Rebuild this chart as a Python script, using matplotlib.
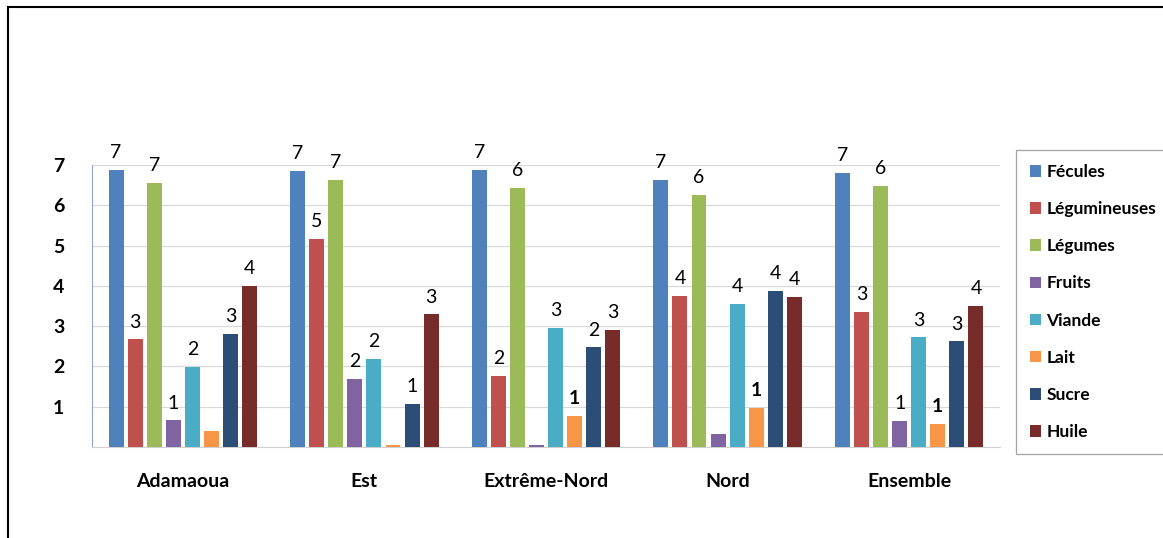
import numpy as np
import matplotlib
matplotlib.use("Agg")
import matplotlib.pyplot as plt
from matplotlib.lines import Line2D

plt.rcParams["font.family"] = ["Lato", "DejaVu Sans"]

regions = ["Adamaoua", "Est", "Extrême-Nord", "Nord", "Ensemble"]
groups = ["Fécules", "Légumineuses", "Légumes", "Fruits", "Viande", "Lait", "Sucre", "Huile"]

fecules = [6.87, 6.85, 6.87, 6.64, 6.80]
legumineuses = [2.67, 5.17, 1.77, 3.76, 3.35]
legumes = [6.56, 6.62, 6.44, 6.26, 6.48]
fruits = [0.66, 1.69, 0.04, 0.32, 0.65]
viande = [1.99, 2.18, 2.96, 3.55, 2.72]
lait = [0.40, 0.06, 0.78, 0.98, 0.58]
sucre = [2.81, 1.06, 2.47, 3.87, 2.62]
huile = [4.00, 3.29, 2.90, 3.72, 3.51]

series = [fecules, legumineuses, legumes, fruits, viande, lait, sucre, huile]
colors = ["#4F81BD", "#C0504D", "#9BBB59", "#8064A2", "#4BACC6", "#F79646", "#2C4D75", "#772C2A"]

fig = plt.figure(figsize=(11.63, 5.38), dpi=100)
ax = fig.add_axes([92 / 1163, 1 - 447 / 538, 908 / 1163, 282 / 538])

x = np.arange(len(regions))
step = 0.105
width = 0.082
for i, (name, vals, c) in enumerate(zip(groups, series, colors)):
    pos = x + (i - 3.5) * step
    ax.bar(pos, vals, width, color=c, label=name, zorder=3)
    for xp, v in zip(pos, vals):
        r = int(np.floor(v + 0.5))
        if r < 1:
            continue
        # les étiquettes du lait sont en gras
        ax.text(xp, v + 0.22, str(r), ha="center", va="bottom", fontsize=14,
                fontweight="bold" if name == "Lait" else "normal", clip_on=False)

ax.set_xlim(-0.5, len(regions) - 0.5)
ax.set_ylim(0, 7)
ax.set_yticks(range(1, 8))
ax.set_xticks(x)
ax.set_xticklabels(regions, fontsize=14, fontweight="bold")
for lab in ax.get_yticklabels():
    lab.set_fontsize(14)
    lab.set_fontweight("bold")
ax.tick_params(axis="both", length=0)
ax.tick_params(axis="y", pad=20)
ax.tick_params(axis="x", pad=19)
ax.yaxis.grid(True, color="#D9D9D9", linewidth=0.9, zorder=0)
for side in ["top", "right"]:
    ax.spines[side].set_visible(False)
ax.spines["left"].set_color("#8EA4C8")
ax.spines["bottom"].set_color("#D0D0D0")

leg = fig.legend(loc="upper left", bbox_to_anchor=(1016 / 1163, 1 - 150 / 538),
                 frameon=True, fancybox=False, handlelength=0.65, handleheight=0.65,
                 handletextpad=0.3, labelspacing=1.22, borderpad=0.8,
                 borderaxespad=0, prop={"size": 12.5, "weight": "bold"})
leg.get_frame().set_edgecolor("#8C8C8C")
leg.get_frame().set_linewidth(0.9)

# cadre gauche et haut
fig.add_artist(Line2D([8 / 1163, 8 / 1163], [0, 1 - 7 / 538], color="black", linewidth=1.5))
fig.add_artist(Line2D([8 / 1163, 1], [1 - 7 / 538, 1 - 7 / 538], color="black", linewidth=1.5))

fig.savefig("out.png", dpi=100)
